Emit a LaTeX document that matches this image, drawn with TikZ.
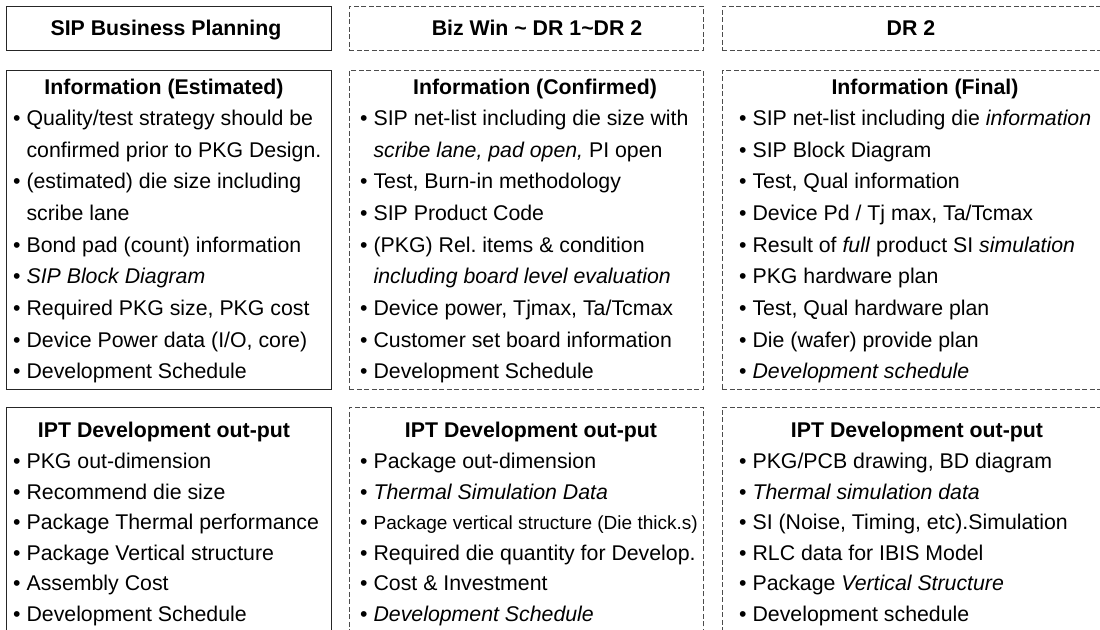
\documentclass[tikz,border=0pt]{standalone}
\usepackage{fontspec}
\setmainfont{Liberation Sans}
\frenchspacing
\begin{document}
\begin{tikzpicture}[x=1pt,y=-1pt,
  solidbox/.style={draw=black!85, line width=1.1pt, rectangle, anchor=north west, inner sep=0pt},
  dashbox/.style={draw=black!70, line width=0.8pt, dash pattern=on 5pt off 2.5pt, rectangle, anchor=north west, inner sep=0pt},
  txt/.style={anchor=base west, inner sep=0pt, font=\fontsize{21.3}{25}\selectfont},
  hd/.style={anchor=base, inner sep=0pt, font=\fontsize{21.3}{25}\selectfont\bfseries}]
\useasboundingbox (0,0) rectangle (1100,629);
\fill[white] (0,0) rectangle (1100,629);
\clip (0,0) rectangle (1100,629);
% ---------- boxes ----------
\node[solidbox, minimum width=325pt, minimum height=44pt] (h1) at (6,6) {};
\node[dashbox, minimum width=354pt, minimum height=44pt] (h2) at (349,6) {};
\node[dashbox, minimum width=400pt, minimum height=44pt] (h3) at (722,6) {};
\node[solidbox, minimum width=325pt, minimum height=319pt] (i1) at (6,70) {};
\node[dashbox, minimum width=354pt, minimum height=319pt] (i2) at (349,70) {};
\node[dashbox, minimum width=400pt, minimum height=319pt] (i3) at (722,70) {};
\node[solidbox, minimum width=325pt, minimum height=240pt] (o1) at (6,407) {};
\node[dashbox, minimum width=354pt, minimum height=240pt] (o2) at (349,407) {};
\node[dashbox, minimum width=400pt, minimum height=240pt] (o3) at (722,407) {};
% ---------- headers ----------
\node[hd] (t1) at (166,35) {SIP Business Planning};
\node[hd] (t2) at (537,35) {Biz Win \textasciitilde\ DR 1\textasciitilde DR 2};
\node[hd] (t3) at (911,35) {DR 2};
% ---------- column 1 info ----------
\node[hd] (a0) at (164,94.5) {Information (Estimated)};
\node[txt] (a1) at (13,125.5) {\textbullet\ Quality/test strategy should be};
\node[txt] (a2) at (13,157.2) {\phantom{\textbullet\ }confirmed prior to PKG Design.};
\node[txt] (a3) at (13,188.8) {\textbullet\ (estimated) die size including};
\node[txt] (a4) at (13,220.5) {\phantom{\textbullet\ }scribe lane};
\node[txt] (a5) at (13,252.1) {\textbullet\ Bond pad (count) information};
\node[txt] (a6) at (13,283.8) {\textbullet\ \textit{SIP Block Diagram}};
\node[txt] (a7) at (13,315.4) {\textbullet\ Required PKG size, PKG cost};
\node[txt] (a8) at (13,347.1) {\textbullet\ Device Power data (I/O, core)};
\node[txt] (a9) at (13,378.7) {\textbullet\ Development Schedule};
% ---------- column 2 info ----------
\node[hd] (b0) at (535,94.5) {Information (Confirmed)};
\node[txt] (b1) at (360,125.5) {\textbullet\ SIP net-list including die size with};
\node[txt] (b2) at (360,157.2) {\phantom{\textbullet\ }\textit{scribe lane, pad open,} PI open};
\node[txt] (b3) at (360,188.8) {\textbullet\ Test, Burn-in methodology};
\node[txt] (b4) at (360,220.5) {\textbullet\ SIP Product Code};
\node[txt] (b5) at (360,252.1) {\textbullet\ (PKG) Rel. items \& condition};
\node[txt] (b6) at (360,283.8) {\phantom{\textbullet\ }\textit{including board level evaluation}};
\node[txt] (b7) at (360,315.4) {\textbullet\ Device power, Tjmax, Ta/Tcmax};
\node[txt] (b8) at (360,347.1) {\textbullet\ Customer set board information};
\node[txt] (b9) at (360,378.7) {\textbullet\ Development Schedule};
% ---------- column 3 info ----------
\node[hd] (c0) at (925,94.5) {Information (Final)};
\node[txt] (c1) at (739,125.5) {\textbullet\ SIP net-list including die \textit{information}};
\node[txt] (c2) at (739,157.2) {\textbullet\ SIP Block Diagram};
\node[txt] (c3) at (739,188.8) {\textbullet\ Test, Qual information};
\node[txt] (c4) at (739,220.5) {\textbullet\ Device Pd / Tj max, Ta/Tcmax};
\node[txt] (c5) at (739,252.1) {\textbullet\ Result of \textit{full} product SI \textit{simulation}};
\node[txt] (c6) at (739,283.8) {\textbullet\ PKG hardware plan};
\node[txt] (c7) at (739,315.4) {\textbullet\ Test, Qual hardware plan};
\node[txt] (c8) at (739,347.1) {\textbullet\ Die (wafer) provide plan};
\node[txt] (c9) at (739,378.7) {\textbullet\ \textit{Development schedule}};
% ---------- column 1 output ----------
\node[hd] (d0) at (164,437.5) {IPT Development out-put};
\node[txt] (d1) at (13,468.5) {\textbullet\ PKG out-dimension};
\node[txt] (d2) at (13,499.1) {\textbullet\ Recommend die size};
\node[txt] (d3) at (13,529.7) {\textbullet\ Package Thermal performance};
\node[txt] (d4) at (13,560.3) {\textbullet\ Package Vertical structure};
\node[txt] (d5) at (13,590.9) {\textbullet\ Assembly Cost};
\node[txt] (d6) at (13,621.5) {\textbullet\ Development Schedule};
% ---------- column 2 output ----------
\node[hd] (e0) at (531,437.5) {IPT Development out-put};
\node[txt] (e1) at (360,468.5) {\textbullet\ Package out-dimension};
\node[txt] (e2) at (360,499.1) {\textbullet\ \textit{Thermal Simulation Data}};
\node[txt] (e3) at (360,529.7) {\textbullet\ {\fontsize{19}{23}\selectfont Package vertical structure (Die thick.s)}};
\node[txt] (e4) at (360,560.3) {\textbullet\ Required die quantity for Develop.};
\node[txt] (e5) at (360,590.9) {\textbullet\ Cost \& Investment};
\node[txt] (e6) at (360,621.5) {\textbullet\ \textit{Development Schedule}};
% ---------- column 3 output ----------
\node[hd] (f0) at (917,437.5) {IPT Development out-put};
\node[txt] (f1) at (739,468.5) {\textbullet\ PKG/PCB drawing, BD diagram};
\node[txt] (f2) at (739,499.1) {\textbullet\ \textit{Thermal simulation data}};
\node[txt] (f3) at (739,529.7) {\textbullet\ SI (Noise, Timing, etc).Simulation};
\node[txt] (f4) at (739,560.3) {\textbullet\ RLC data for IBIS Model};
\node[txt] (f5) at (739,590.9) {\textbullet\ Package \textit{Vertical Structure}};
\node[txt] (f6) at (739,621.5) {\textbullet\ Development schedule};
\end{tikzpicture}
\end{document}
